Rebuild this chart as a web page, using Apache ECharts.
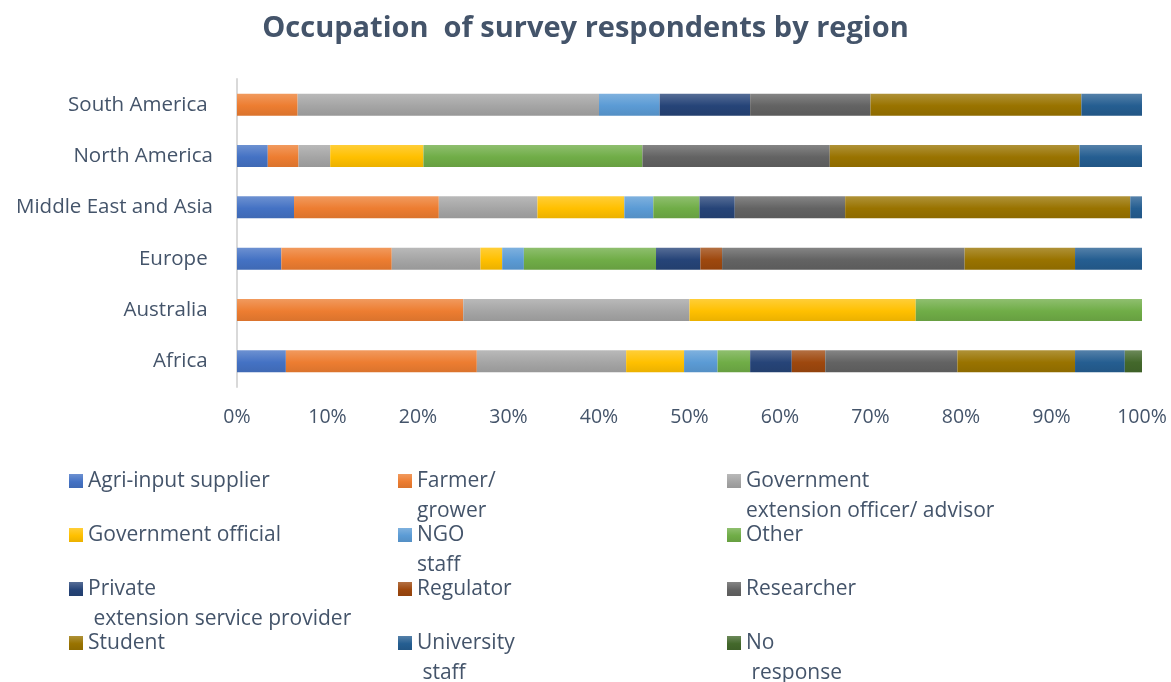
<!DOCTYPE html>
<html>
<head>
<meta charset="utf-8">
<title>Occupation of survey respondents by region</title>
<script src="https://cdn.jsdelivr.net/npm/echarts@6/dist/echarts.min.js"></script>
<style>
  html, body { margin: 0; padding: 0; background: #fff; }
  #main { width: 1171px; height: 682px; }
</style>
</head>
<body>
<div id="main"></div>
<script>
// regions, bottom to top as the category axis draws them
var regions = ['Africa ', 'Australia ', 'Europe ', 'Middle East and Asia', 'North America', 'South America ']

// share of respondents (%) per region
var agriInput = [5.4, 0, 4.9, 6.3, 3.4, 0]
var farmer = [21.1, 25, 12.2, 16.0, 3.4, 6.7]
var govExtension = [16.5, 25, 9.8, 10.9, 3.5, 33.3]
var govOfficial = [6.4, 25, 2.4, 9.6, 10.3, 0]
var ngoStaff = [3.7, 0, 2.4, 3.2, 0, 6.7]
var other = [3.6, 25, 14.6, 5.1, 24.2, 0]
var privateExt = [4.6, 0, 4.9, 3.9, 0, 10]
var regulator = [3.7, 0, 2.4, 0, 0, 0]
var researcher = [14.6, 0, 26.8, 12.2, 20.7, 13.3]
var student = [13.0, 0, 12.2, 31.5, 27.6, 23.3]
var universityStaff = [5.5, 0, 7.4, 1.3, 6.9, 6.7]
var noResponse = [1.9, 0, 0, 0, 0, 0]

var xTicks = [0, 10, 20, 30, 40, 50, 60, 70, 80, 90, 100]

var seriesDefs = [
  { name: 'Agri-input supplier', data: agriInput, color: '#4472C4' },
  { name: 'Farmer/\ngrower', data: farmer, color: '#ED7D31' },
  { name: 'Government\nextension officer/ advisor', data: govExtension, color: '#A5A5A5' },
  { name: 'Government official', data: govOfficial, color: '#FFC000' },
  { name: 'NGO\nstaff', data: ngoStaff, color: '#5B9BD5' },
  { name: 'Other', data: other, color: '#70AD47' },
  { name: 'Private\n extension service provider', data: privateExt, color: '#264478' },
  { name: 'Regulator', data: regulator, color: '#9E480E' },
  { name: 'Researcher', data: researcher, color: '#636363' },
  { name: 'Student', data: student, color: '#997300' },
  { name: 'University\n staff', data: universityStaff, color: '#255E91' },
  { name: 'No\n response', data: noResponse, color: '#43682B' }
]

var textColor = '#44546A'
var fontFamily = 'Open Sans'

function mix(hex, amt) {
  // amt > 0 lightens towards white, amt < 0 darkens
  var n = parseInt(hex.slice(1), 16)
  var c = [(n >> 16) & 255, (n >> 8) & 255, n & 255].map(function (v) {
    return amt > 0 ? Math.round(v + (255 - v) * amt) : Math.round(v * (1 + amt))
  })
  return 'rgb(' + c.join(',') + ')'
}

function barFill(hex) {
  return new echarts.graphic.LinearGradient(0, 0, 0, 1, [
    { offset: 0, color: mix(hex, 0.22) },
    { offset: 0.55, color: hex },
    { offset: 1, color: mix(hex, -0.08) }
  ])
}

var chart = echarts.init(document.getElementById('main'))

// legend: 3 columns, 4 rows, one legend per item so rows line up
// the text block is centred on the marker, so blank lines are put in front
// to keep the first line level with the marker
var colX = [69, 398, 727]
var rowY = [481, 535, 589, 643]
var lineH = 30
var legends = seriesDefs.map(function (s, i) {
  var lines = s.name.split('\n').length
  var blockH = (2 * lines - 1) * lineH
  var pad = new Array(lines).join(' \n')
  return {
    data: [{ name: s.name, icon: 'rect' }],
    formatter: function (name) { return pad + name },
    left: colX[i % 3],
    top: rowY[Math.floor(i / 3)] - blockH / 2,
    padding: 0,
    itemWidth: 14,
    itemHeight: 14,
    itemGap: 0,
    selectedMode: false,
    textStyle: {
      color: textColor,
      fontFamily: fontFamily,
      fontSize: 21,
      lineHeight: lineH
    }
  }
})

var option = {
  animation: false,
  backgroundColor: '#fff',
  title: {
    text: 'Occupation  of survey respondents by region',
    left: 'center',
    top: 9,
    textStyle: {
      color: textColor,
      fontFamily: fontFamily,
      fontWeight: 'bold',
      fontSize: 29
    }
  },
  legend: legends,
  grid: {
    left: 237,
    right: 29,
    top: 79,
    bottom: 295
  },
  xAxis: {
    type: 'value',
    min: xTicks[0],
    max: xTicks[xTicks.length - 1],
    interval: 10,
    axisLine: { show: false },
    axisTick: { show: false },
    splitLine: { show: false },
    axisLabel: {
      formatter: '{value}%',
      color: textColor,
      fontFamily: fontFamily,
      fontSize: 19.5,
      margin: 20
    }
  },
  yAxis: {
    type: 'category',
    data: regions,
    axisLine: { show: true, lineStyle: { color: '#D9D9D9', width: 2 } },
    axisTick: { show: false },
    axisLabel: {
      color: textColor,
      fontFamily: fontFamily,
      fontSize: 20.5,
      margin: 24
    }
  },
  series: seriesDefs.map(function (s) {
    return {
      name: s.name,
      type: 'bar',
      stack: 'total',
      barWidth: 22,
      data: s.data,
      itemStyle: { color: barFill(s.color) },
      color: s.color,
      emphasis: { disabled: true }
    }
  })
}

chart.setOption(option)
</script>
</body>
</html>
